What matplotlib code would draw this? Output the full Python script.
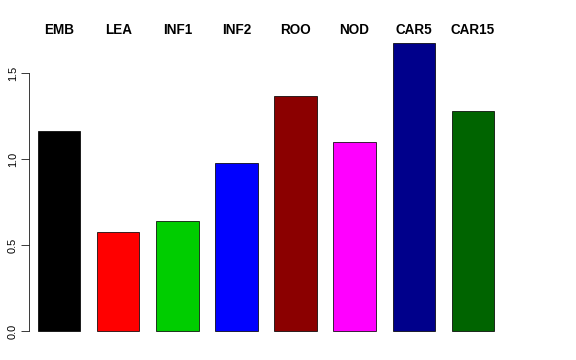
import matplotlib.pyplot as plt

plt.rcParams['font.family'] = ['Liberation Sans', 'DejaVu Sans']

tissues = ['EMB', 'LEA', 'INF1', 'INF2', 'ROO', 'NOD', 'CAR5', 'CAR15']
values = [1.163, 0.576, 0.640, 0.977, 1.366, 1.099, 1.674, 1.279]
colors = ['#000000', '#FF0000', '#00CD00', '#0000FF',
          '#8B0000', '#FF00FF', '#00008B', '#006400']

W, H = 576, 360
fig = plt.figure(figsize=(W / 72, H / 72), dpi=72)
# axes box placed in pixels like R's plot region
ax = fig.add_axes([29 / W, 17.5 / H, (512 - 29) / W, 311 / H])

xs = [0.9 + 1.4 * i for i in range(len(values))]
ax.bar(xs, values, width=1.0, color=colors, edgecolor='black', linewidth=0.75)

ax.set_xlim(0.181, 11.632)
ax.set_ylim(-0.067, 1.741)

for s in ['top', 'right', 'bottom']:
    ax.spines[s].set_visible(False)
ax.spines['left'].set_bounds(0, 1.5)
ax.spines['left'].set_linewidth(0.75)
ax.set_xticks([])
ax.set_yticks([0, 0.5, 1.0, 1.5])
ax.set_yticklabels(['0.0', '0.5', '1.0', '1.5'], rotation=90, va='center',
                   fontsize=11)
ax.tick_params(axis='y', length=8, width=0.75, pad=3)

for x, name in zip(xs, tissues):
    ax.text(x, 1.75, name, ha='center', va='center', fontsize=13.5,
            fontweight='bold', clip_on=False)

plt.savefig('out.png', dpi=72)
